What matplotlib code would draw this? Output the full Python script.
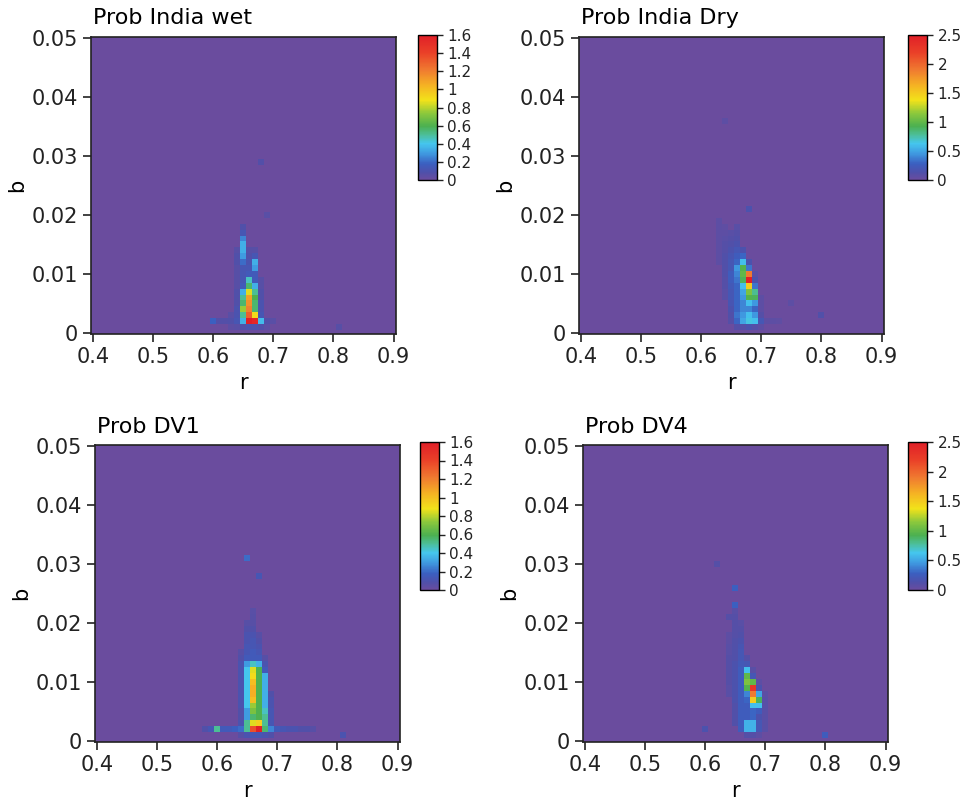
import numpy as np
import matplotlib
matplotlib.use("Agg")
import matplotlib.pyplot as plt
from matplotlib.colors import LinearSegmentedColormap
from matplotlib.ticker import FuncFormatter

# ---------------- data ----------------
titles = ["Prob India wet", "Prob India Dry", "Prob DV1", "Prob DV4"]
vmaxes = [1.6, 2.5, 1.6, 2.5]
cbar_ticks_a = [0, 0.2, 0.4, 0.6, 0.8, 1.0, 1.2, 1.4, 1.6]
cbar_ticks_b = [0, 0.5, 1.0, 1.5, 2.0, 2.5]
x_ticks = [0.4, 0.5, 0.6, 0.7, 0.8, 0.9]
y_ticks = [0, 0.01, 0.02, 0.03, 0.04, 0.05]
r_grid = np.round(np.arange(0.40, 0.9001, 0.01), 2)
b_grid = np.round(np.arange(0.0, 0.0501, 0.001), 3)

# strips: column r, starting b, values upward in b steps of 0.001
wet_r = [0.60, 0.61, 0.62, 0.63, 0.64, 0.65, 0.66, 0.67, 0.68, 0.69, 0.70, 0.68, 0.69, 0.81]
wet_b0 = [0.002, 0.002, 0.002, 0.001, 0.001, 0.001, 0.001, 0.001, 0.001, 0.001, 0.002, 0.029, 0.020, 0.001]
wet_v = [
    [0.18], [0.07], [0.07], [0.04, 0.08, 0.05],
    [0.05, 0.12, 0.10, 0.10, 0.08, 0.08, 0.08, 0.06, 0.06, 0.06, 0.06, 0.08, 0.08, 0.06],
    [0.08, 0.35, 0.50, 0.75, 0.55, 0.50, 0.35, 0.15, 0.12, 0.12, 0.12, 0.20, 0.30, 0.35, 0.35, 0.25, 0.12, 0.08],
    [0.10, 1.60, 1.30, 1.20, 1.15, 1.10, 0.85, 0.55, 0.45, 0.15, 0.12, 0.10, 0.08, 0.06],
    [0.10, 1.55, 0.90, 0.55, 0.55, 0.60, 0.50, 0.35, 0.15, 0.15, 0.30, 0.35, 0.12, 0.06],
    [0.08, 0.38, 0.12, 0.10, 0.10, 0.08, 0.08, 0.06, 0.06],
    [0.04, 0.08], [0.05], [0.07], [0.05], [0.06],
]

dry_r = [0.63, 0.64, 0.65, 0.66, 0.67, 0.68, 0.69, 0.70, 0.71, 0.72, 0.73, 0.68, 0.64, 0.75, 0.80]
dry_b0 = [0.012, 0.006, 0.002, 0.001, 0.001, 0.001, 0.001, 0.001, 0.002, 0.002, 0.002, 0.021, 0.036, 0.005, 0.003]
dry_v = [
    [0.06, 0.06, 0.06, 0.06, 0.06, 0.06, 0.06, 0.06],
    [0.08, 0.08, 0.10, 0.10, 0.12, 0.12, 0.12, 0.12, 0.10, 0.10, 0.08, 0.06, 0.05],
    [0.10, 0.12, 0.15, 0.18, 0.20, 0.20, 0.22, 0.25, 0.25, 0.20, 0.20, 0.18, 0.15, 0.12, 0.10, 0.08],
    [0.10, 0.30, 0.35, 0.30, 0.30, 0.30, 0.30, 0.30, 0.35, 0.40, 0.45, 0.30, 0.25, 0.20, 0.15, 0.12, 0.10, 0.08],
    [0.10, 0.50, 0.45, 0.40, 0.40, 0.45, 0.50, 0.60, 0.90, 1.00, 0.95, 0.60, 0.30, 0.15],
    [0.15, 0.65, 0.60, 0.40, 0.60, 0.95, 1.10, 1.50, 2.50, 1.90, 0.35, 0.15],
    [0.10, 0.60, 0.45, 0.30, 0.45, 0.90, 0.80, 0.35, 0.15, 0.08],
    [0.06, 0.20, 0.10, 0.06, 0.06, 0.06],
    [0.06], [0.06], [0.05], [0.15], [0.06], [0.06], [0.12],
]

dv1_r = [0.58, 0.59, 0.60, 0.61, 0.62, 0.63, 0.64, 0.65, 0.66, 0.67, 0.68, 0.69,
         0.70, 0.71, 0.72, 0.73, 0.74, 0.75, 0.76, 0.65, 0.67, 0.81]
dv1_b0 = [0.002, 0.002, 0.002, 0.002, 0.002, 0.002, 0.001, 0.001, 0.001, 0.001, 0.001, 0.001,
          0.002, 0.002, 0.002, 0.002, 0.002, 0.002, 0.002, 0.031, 0.028, 0.001]
dv1_v = [
    [0.08], [0.12], [0.50], [0.15], [0.15], [0.18],
    [0.06, 0.20, 0.10, 0.08, 0.08, 0.10, 0.10, 0.10, 0.10, 0.10, 0.10, 0.10, 0.10, 0.08, 0.06],
    [0.10, 0.50, 0.50, 0.30, 0.30, 0.40, 0.40, 0.40, 0.40, 0.40, 0.40, 0.40, 0.30, 0.15, 0.12, 0.12, 0.10, 0.10, 0.08, 0.06],
    [0.12, 1.35, 0.85, 0.55, 0.70, 0.75, 1.00, 1.05, 1.05, 1.00, 0.90, 0.85, 0.45, 0.15, 0.15, 0.12, 0.12, 0.10, 0.08, 0.06, 0.06, 0.05],
    [0.12, 1.60, 0.95, 0.60, 0.60, 0.60, 0.60, 0.60, 0.60, 0.60, 0.60, 0.60, 0.35, 0.15, 0.12, 0.10, 0.08, 0.06],
    [0.10, 0.55, 0.50, 0.50, 0.45, 0.35, 0.35, 0.35, 0.35, 0.35, 0.35, 0.15, 0.10, 0.06],
    [0.08, 0.25, 0.12, 0.12, 0.12, 0.10, 0.10, 0.08],
    [0.15], [0.12], [0.10], [0.10], [0.08], [0.08], [0.06], [0.20], [0.12], [0.10],
]

dv4_r = [0.64, 0.65, 0.66, 0.67, 0.68, 0.69, 0.70, 0.65, 0.65, 0.62, 0.64, 0.60, 0.80]
dv4_b0 = [0.008, 0.003, 0.002, 0.001, 0.001, 0.001, 0.002, 0.026, 0.023, 0.030, 0.021, 0.002, 0.001]
dv4_v = [
    [0.08, 0.08, 0.10, 0.10, 0.10, 0.10, 0.10, 0.08, 0.08, 0.06, 0.06],
    [0.12, 0.12, 0.12, 0.12, 0.15, 0.15, 0.15, 0.15, 0.15, 0.15, 0.15, 0.12, 0.12, 0.12, 0.12, 0.10, 0.10, 0.10, 0.10, 0.08],
    [0.25, 0.25, 0.25, 0.25, 0.25, 0.25, 0.25, 0.25, 0.25, 0.25, 0.25, 0.22, 0.20, 0.20, 0.18, 0.15, 0.12, 0.10, 0.08],
    [0.10, 0.55, 0.55, 0.25, 0.25, 0.25, 0.30, 0.40, 0.95, 1.10, 1.00, 0.60, 0.20, 0.10],
    [0.10, 0.55, 0.55, 0.30, 0.30, 0.60, 1.50, 1.90, 2.30, 1.00, 0.20, 0.08],
    [0.06, 0.20, 0.20, 0.15, 0.25, 0.60, 0.90, 0.50, 0.15, 0.06],
    [0.08, 0.08, 0.08, 0.08, 0.08, 0.08, 0.06],
    [0.28], [0.28], [0.10], [0.10], [0.15], [0.25],
]

panels = [(wet_r, wet_b0, wet_v), (dry_r, dry_b0, dry_v),
          (dv1_r, dv1_b0, dv1_v), (dv4_r, dv4_b0, dv4_v)]


def build_grid(rs, b0s, vals):
    z = np.zeros((len(b_grid), len(r_grid)))
    for r, b0, vv in zip(rs, b0s, vals):
        i = int(round((r - r_grid[0]) / 0.01))
        j0 = int(round(b0 / 0.001))
        for k, v in enumerate(vv):
            z[j0 + k, i] = max(z[j0 + k, i], v)
    return z


cmap = LinearSegmentedColormap.from_list("ref", [
    (0.00, "#6a4c9e"), (0.05, "#4f50aa"), (0.11, "#3b5fc0"), (0.18, "#3f98e0"),
    (0.25, "#45c6ee"), (0.31, "#4cbf9a"), (0.37, "#4cb050"), (0.46, "#8cc83c"),
    (0.55, "#f2e21a"), (0.65, "#f5b423"), (0.76, "#f07a30"), (0.88, "#ea4028"),
    (1.00, "#e01f28"),
])

W, H = 965, 806
fig = plt.figure(figsize=(W / 100, H / 100), dpi=100)


def px_axes(l, t, r, b):
    return fig.add_axes([l / W, 1 - b / H, (r - l) / W, (b - t) / H])


ax_boxes = [(91, 37, 396, 334), (579, 37, 884, 334), (95, 445, 400, 742), (583, 445, 888, 742)]
cb_boxes = [(418, 35, 437, 180), (908, 35, 927, 180), (420, 442, 439, 590), (908, 442, 927, 590)]

r_edges = np.concatenate([r_grid - 0.005, [r_grid[-1] + 0.005]])
b_edges = np.concatenate([b_grid - 0.0005, [b_grid[-1] + 0.0005]])

for idx, (data, box, cbox, title, vmax) in enumerate(zip(panels, ax_boxes, cb_boxes, titles, vmaxes)):
    ax = px_axes(*box)
    z = build_grid(*data)
    mesh = ax.pcolormesh(r_edges, b_edges, z, cmap=cmap, vmin=0, vmax=vmax,
                         shading="flat", antialiased=False, rasterized=True)
    ax.set_xlim(0.397, 0.904)
    ax.set_ylim(-0.0002, 0.0502)
    ax.set_xticks(x_ticks)
    ax.set_yticks(y_ticks)
    ax.xaxis.set_major_formatter(FuncFormatter(lambda v, p: "%g" % v))
    ax.yaxis.set_major_formatter(FuncFormatter(lambda v, p: "%g" % round(v, 3)))
    ax.tick_params(direction="out", length=6, width=1.2, labelsize=15, colors="#222222")
    for s in ax.spines.values():
        s.set_linewidth(1.2)
        s.set_color("#222222")
    ax.set_xlabel("r", fontsize=15, labelpad=4)
    ax.set_ylabel("b", fontsize=15, labelpad=3)
    ax.set_title(title, loc="left", fontsize=16, pad=9, x=0.005)

    cax = px_axes(*cbox)
    cb = fig.colorbar(mesh, cax=cax)
    cb.set_ticks(cbar_ticks_a if vmax < 2 else cbar_ticks_b)
    cb.ax.yaxis.set_major_formatter(FuncFormatter(lambda v, p: "%g" % round(v, 2)))
    cb.ax.tick_params(labelsize=11, length=4, width=1, colors="#222222")
    cb.outline.set_linewidth(1)

fig.savefig("out.png", dpi=100)
